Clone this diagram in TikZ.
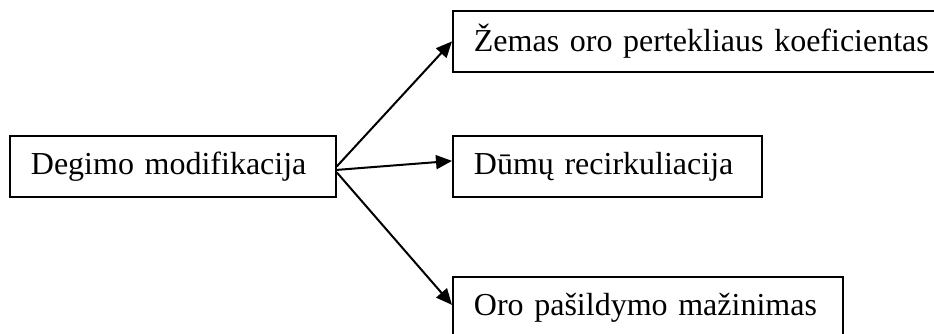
\documentclass[tikz,border=0pt]{standalone}
\usepackage{fontspec}
\setmainfont{Liberation Serif}
\usetikzlibrary{arrows.meta,positioning}

\begin{document}
\begin{tikzpicture}[x=1pt, y=-1pt,
    block/.style={draw, line width=1.8pt, minimum height=61pt, inner xsep=21pt, inner ysep=0pt, align=left, font=\fontsize{32}{38}\selectfont, anchor=north west},
    link/.style={line width=2pt, -{Triangle[length=16pt,width=14pt]}},
]
\useasboundingbox (0,0) rectangle (934,334);

\node[block, text width=284pt] (degimo) at (9,135) {Degimo modifikacija};
\node[block, text width=480pt] (oras) at (452,10) {Žemas oro pertekliaus koeficientas};
\node[block, text width=267pt] (dumai) at (452,135) {Dūmų recirkuliacija};
\node[block, text width=348pt] (pasildymas) at (452,276) {Oro pašildymo mažinimas};

\draw[link] (degimo.east) -- (oras.west);
\draw[link] ([yshift=-3.5pt]degimo.east) -- ([yshift=5.5pt]dumai.west);
\draw[link] ([yshift=-6pt]degimo.east) -- ([yshift=2.5pt]pasildymas.west);

\end{tikzpicture}
\end{document}
